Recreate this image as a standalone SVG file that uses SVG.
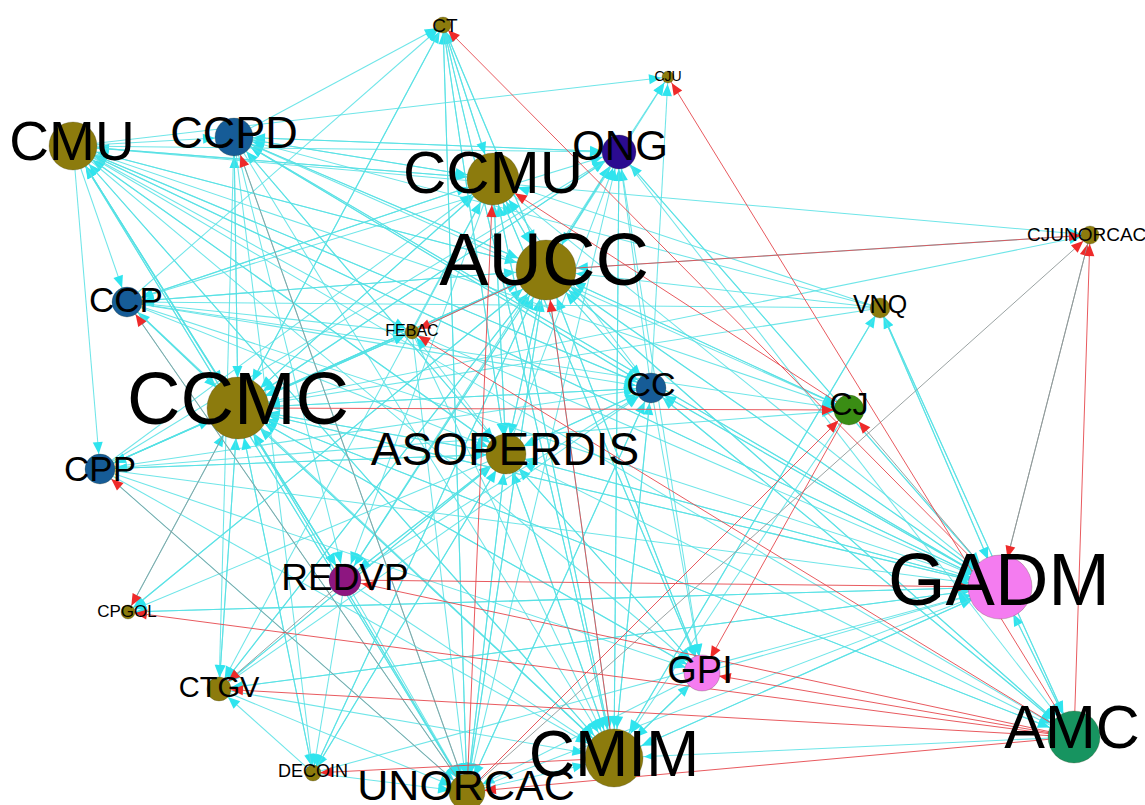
<svg xmlns="http://www.w3.org/2000/svg" width="1145" height="805" viewBox="0 0 1145 805">
<style>
.cy path{stroke:#55e0e4;stroke-width:1.05;fill:none;stroke-opacity:.85}
.gy path{stroke:#8e9898;stroke-width:.9;fill:none}
.rd path{stroke:#e5474d;stroke-width:.9;fill:none}
.ac{fill:#2fe4ee}
.ar{fill:#ee2a2a}
.nd circle{stroke:#3a3a1a;stroke-width:.5;stroke-opacity:.5}
.ol{fill:#8c7b0d}.bl{fill:#165c97}.vi{fill:#2b0b90}.gr{fill:#3a8d14}.mg{fill:#8d1680}.pk{fill:#f47cf0}.em{fill:#179460}
text{font-family:"Liberation Sans",Arial,Helvetica,sans-serif;fill:#000;text-anchor:middle}
</style>
<defs>
<!-- arrowheads: refX pushes the tip back to the rim of a target circle of the given radius -->
<marker id="c7" markerUnits="userSpaceOnUse" markerWidth="12" markerHeight="10" refX="19" refY="5" orient="auto" overflow="visible"><path class="ac" d="M0 0L12 5L0 10z"/></marker>
<marker id="c9" markerUnits="userSpaceOnUse" markerWidth="12" markerHeight="10" refX="21" refY="5" orient="auto" overflow="visible"><path class="ac" d="M0 0L12 5L0 10z"/></marker>
<marker id="c12" markerUnits="userSpaceOnUse" markerWidth="12" markerHeight="10" refX="24" refY="5" orient="auto" overflow="visible"><path class="ac" d="M0 0L12 5L0 10z"/></marker>
<marker id="c15" markerUnits="userSpaceOnUse" markerWidth="12" markerHeight="10" refX="27" refY="5" orient="auto" overflow="visible"><path class="ac" d="M0 0L12 5L0 10z"/></marker>
<marker id="c17" markerUnits="userSpaceOnUse" markerWidth="12" markerHeight="10" refX="29" refY="5" orient="auto" overflow="visible"><path class="ac" d="M0 0L12 5L0 10z"/></marker>
<marker id="c19" markerUnits="userSpaceOnUse" markerWidth="12" markerHeight="10" refX="31" refY="5" orient="auto" overflow="visible"><path class="ac" d="M0 0L12 5L0 10z"/></marker>
<marker id="c24" markerUnits="userSpaceOnUse" markerWidth="12" markerHeight="10" refX="36" refY="5" orient="auto" overflow="visible"><path class="ac" d="M0 0L12 5L0 10z"/></marker>
<marker id="c26" markerUnits="userSpaceOnUse" markerWidth="12" markerHeight="10" refX="38" refY="5" orient="auto" overflow="visible"><path class="ac" d="M0 0L12 5L0 10z"/></marker>
<marker id="c30" markerUnits="userSpaceOnUse" markerWidth="12" markerHeight="10" refX="42" refY="5" orient="auto" overflow="visible"><path class="ac" d="M0 0L12 5L0 10z"/></marker>
<marker id="r7" markerUnits="userSpaceOnUse" markerWidth="12" markerHeight="10" refX="19" refY="5" orient="auto" overflow="visible"><path class="ar" d="M0 0L12 5L0 10z"/></marker>
<marker id="r9" markerUnits="userSpaceOnUse" markerWidth="12" markerHeight="10" refX="21" refY="5" orient="auto" overflow="visible"><path class="ar" d="M0 0L12 5L0 10z"/></marker>
<marker id="r12" markerUnits="userSpaceOnUse" markerWidth="12" markerHeight="10" refX="24" refY="5" orient="auto" overflow="visible"><path class="ar" d="M0 0L12 5L0 10z"/></marker>
<marker id="r15" markerUnits="userSpaceOnUse" markerWidth="12" markerHeight="10" refX="27" refY="5" orient="auto" overflow="visible"><path class="ar" d="M0 0L12 5L0 10z"/></marker>
<marker id="r17" markerUnits="userSpaceOnUse" markerWidth="12" markerHeight="10" refX="29" refY="5" orient="auto" overflow="visible"><path class="ar" d="M0 0L12 5L0 10z"/></marker>
<marker id="r19" markerUnits="userSpaceOnUse" markerWidth="12" markerHeight="10" refX="31" refY="5" orient="auto" overflow="visible"><path class="ar" d="M0 0L12 5L0 10z"/></marker>
<marker id="r26" markerUnits="userSpaceOnUse" markerWidth="12" markerHeight="10" refX="38" refY="5" orient="auto" overflow="visible"><path class="ar" d="M0 0L12 5L0 10z"/></marker>
<marker id="r30" markerUnits="userSpaceOnUse" markerWidth="12" markerHeight="10" refX="42" refY="5" orient="auto" overflow="visible"><path class="ar" d="M0 0L12 5L0 10z"/></marker>
</defs>
<rect width="1145" height="805" fill="#fff"/>
<g id="edges">
<!-- cyan edges, grouped by target node -->
<g class="cy" marker-end="url(#c24)"><!-- CMU -->
<path d="M238 408L73 146"/><path d="M546 270L73 146"/><path d="M506 454L73 146"/><path d="M651 388L73 146"/><path d="M614 758L73 146"/><path d="M1000 587L73 146"/><path d="M345 580L73 146"/><path d="M467 792L73 146"/><path d="M493 179L73 146"/>
</g>
<g class="cy" marker-end="url(#c19)"><!-- CCPD -->
<path d="M73 146L234 137"/><path d="M546 270L234 137"/><path d="M493 179L234 137"/><path d="M619 152L234 137"/><path d="M651 388L234 137"/><path d="M238 408L234 137"/><path d="M506 454L234 137"/><path d="M1000 587L234 137"/><path d="M880 308L234 137"/>
</g>
<g class="cy" marker-end="url(#c7)"><!-- CT -->
<path d="M238 408L443 25"/><path d="M546 270L443 25"/><path d="M493 179L443 25"/><path d="M506 454L443 25"/><path d="M614 758L443 25"/><path d="M467 792L443 25"/><path d="M127 302L443 25"/><path d="M234 137L443 25"/>
</g>
<g class="cy" marker-end="url(#c7)"><!-- CJU -->
<path d="M73 146L668 77"/><path d="M619 152L668 77"/><path d="M546 270L668 77"/><path d="M651 388L668 77"/>
</g>
<g class="cy" marker-end="url(#c17)"><!-- ONG -->
<path d="M238 408L619 152"/><path d="M546 270L619 152"/><path d="M73 146L619 152"/><path d="M234 137L619 152"/><path d="M506 454L619 152"/><path d="M614 758L619 152"/><path d="M467 792L619 152"/><path d="M651 388L619 152"/><path d="M1000 587L619 152"/><path d="M127 302L619 152"/><path d="M100 469L619 152"/><path d="M345 580L619 152"/>
</g>
<g class="cy" marker-end="url(#c26)"><!-- CCMU -->
<path d="M73 146L493 179"/><path d="M234 137L493 179"/><path d="M238 408L493 179"/><path d="M546 270L493 179"/><path d="M506 454L493 179"/><path d="M614 758L493 179"/><path d="M651 388L493 179"/><path d="M127 302L493 179"/><path d="M100 469L493 179"/><path d="M443 25L493 179"/><path d="M412 332L493 179"/><path d="M880 308L493 179"/><path d="M702 673L493 179"/>
</g>
<g class="cy" marker-end="url(#c30)"><!-- AUCC -->
<path d="M73 146L546 270"/><path d="M234 137L546 270"/><path d="M493 179L546 270"/><path d="M443 25L546 270"/><path d="M619 152L546 270"/><path d="M238 408L546 270"/><path d="M127 302L546 270"/><path d="M100 469L546 270"/><path d="M412 332L546 270"/><path d="M506 454L546 270"/><path d="M651 388L546 270"/><path d="M849 410L546 270"/><path d="M880 308L546 270"/><path d="M345 580L546 270"/><path d="M1000 587L546 270"/><path d="M467 792L546 270"/><path d="M219 689L546 270"/><path d="M313 773L546 270"/><path d="M702 673L546 270"/><path d="M1074 737L546 270"/><path d="M128 612L546 270"/><path d="M1090 235L546 270"/>
</g>
<g class="cy" marker-end="url(#c9)"><!-- CJUNORCAC, VNQ -->
<path d="M73 146L1090 235"/><path d="M238 408L1090 235"/>
<path d="M1000 587L880 308"/><path d="M1074 737L880 308"/><path d="M614 758L880 308"/>
</g>
<g class="cy" marker-end="url(#c15)"><!-- CCP, CC, CJ, CPP -->
<path d="M73 146L127 302"/><path d="M546 270L127 302"/><path d="M493 179L127 302"/><path d="M238 408L127 302"/><path d="M880 308L127 302"/>
<path d="M73 146L651 388"/><path d="M234 137L651 388"/><path d="M127 302L651 388"/><path d="M100 469L651 388"/><path d="M238 408L651 388"/><path d="M546 270L651 388"/><path d="M506 454L651 388"/><path d="M614 758L651 388"/><path d="M467 792L651 388"/><path d="M1000 587L651 388"/><path d="M1074 737L651 388"/><path d="M345 580L651 388"/><path d="M219 689L651 388"/>
<path d="M73 146L849 410"/><path d="M546 270L849 410"/><path d="M234 137L849 410"/><path d="M100 469L849 410"/><path d="M127 302L849 410"/>
<path d="M73 146L100 469"/><path d="M238 408L100 469"/><path d="M546 270L100 469"/><path d="M506 454L100 469"/>
</g>
<g class="cy" marker-end="url(#c7)"><!-- FEBAC, CPGOL, DECOIN -->
<path d="M238 408L412 332"/><path d="M127 302L412 332"/><path d="M100 469L412 332"/><path d="M73 146L412 332"/><path d="M506 454L412 332"/>
<path d="M546 270L128 612"/><path d="M506 454L128 612"/><path d="M1000 587L128 612"/>
<path d="M238 408L313 773"/><path d="M546 270L313 773"/><path d="M234 137L313 773"/><path d="M345 580L313 773"/><path d="M506 454L313 773"/>
</g>
<g class="cy" marker-end="url(#c30)"><!-- CCMC -->
<path d="M73 146L238 408"/><path d="M234 137L238 408"/><path d="M127 302L238 408"/><path d="M100 469L238 408"/><path d="M443 25L238 408"/><path d="M493 179L238 408"/><path d="M546 270L238 408"/><path d="M506 454L238 408"/><path d="M651 388L238 408"/><path d="M219 689L238 408"/><path d="M128 612L238 408"/><path d="M345 580L238 408"/><path d="M313 773L238 408"/><path d="M467 792L238 408"/><path d="M614 758L238 408"/><path d="M1000 587L238 408"/><path d="M1074 737L238 408"/><path d="M412 332L238 408"/><path d="M619 152L238 408"/><path d="M880 308L238 408"/><path d="M702 673L238 408"/>
</g>
<g class="cy" marker-end="url(#c19)"><!-- ASOPERDIS -->
<path d="M73 146L506 454"/><path d="M234 137L506 454"/><path d="M493 179L506 454"/><path d="M546 270L506 454"/><path d="M443 25L506 454"/><path d="M238 408L506 454"/><path d="M127 302L506 454"/><path d="M100 469L506 454"/><path d="M651 388L506 454"/><path d="M614 758L506 454"/><path d="M467 792L506 454"/><path d="M1000 587L506 454"/><path d="M1074 737L506 454"/><path d="M345 580L506 454"/><path d="M219 689L506 454"/><path d="M313 773L506 454"/><path d="M702 673L506 454"/>
</g>
<g class="cy" marker-end="url(#c17)"><!-- REDVP, GPI, UNORCAC -->
<path d="M238 408L345 580"/><path d="M546 270L345 580"/><path d="M234 137L345 580"/><path d="M506 454L345 580"/><path d="M73 146L345 580"/><path d="M493 179L345 580"/>
<path d="M546 270L702 673"/><path d="M651 388L702 673"/><path d="M238 408L702 673"/><path d="M614 758L702 673"/><path d="M619 152L702 673"/><path d="M493 179L702 673"/><path d="M506 454L702 673"/><path d="M73 146L702 673"/><path d="M100 469L702 673"/>
<path d="M73 146L467 792"/><path d="M234 137L467 792"/><path d="M238 408L467 792"/><path d="M546 270L467 792"/><path d="M506 454L467 792"/><path d="M443 25L467 792"/><path d="M651 388L467 792"/><path d="M345 580L467 792"/><path d="M100 469L467 792"/><path d="M127 302L467 792"/><path d="M412 332L467 792"/><path d="M219 689L467 792"/><path d="M313 773L467 792"/><path d="M702 673L467 792"/>
</g>
<g class="cy" marker-end="url(#c30)"><!-- GADM -->
<path d="M73 146L1000 587"/><path d="M234 137L1000 587"/><path d="M238 408L1000 587"/><path d="M493 179L1000 587"/><path d="M546 270L1000 587"/><path d="M619 152L1000 587"/><path d="M127 302L1000 587"/><path d="M100 469L1000 587"/><path d="M506 454L1000 587"/><path d="M651 388L1000 587"/><path d="M880 308L1000 587"/><path d="M219 689L1000 587"/><path d="M128 612L1000 587"/><path d="M467 792L1000 587"/><path d="M614 758L1000 587"/><path d="M702 673L1000 587"/><path d="M313 773L1000 587"/><path d="M1074 737L1000 587"/><path d="M412 332L1000 587"/>
</g>
<g class="cy" marker-end="url(#c12)"><!-- CTGV -->
<path d="M238 408L219 689"/><path d="M546 270L219 689"/><path d="M234 137L219 689"/><path d="M313 773L219 689"/><path d="M506 454L219 689"/><path d="M493 179L219 689"/><path d="M1000 587L219 689"/>
</g>
<g class="cy" marker-end="url(#c30)"><!-- CMIM -->
<path d="M73 146L614 758"/><path d="M234 137L614 758"/><path d="M493 179L614 758"/><path d="M546 270L614 758"/><path d="M238 408L614 758"/><path d="M506 454L614 758"/><path d="M443 25L614 758"/><path d="M619 152L614 758"/><path d="M651 388L614 758"/><path d="M849 410L614 758"/><path d="M345 580L614 758"/><path d="M100 469L614 758"/><path d="M127 302L614 758"/><path d="M412 332L614 758"/><path d="M219 689L614 758"/><path d="M1000 587L614 758"/><path d="M1074 737L614 758"/><path d="M702 673L614 758"/><path d="M467 792L614 758"/><path d="M880 308L614 758"/>
</g>
<g class="cy" marker-end="url(#c26)"><!-- AMC -->
<path d="M1000 587L1074 737"/><path d="M619 152L1074 737"/><path d="M880 308L1074 737"/><path d="M651 388L1074 737"/><path d="M546 270L1074 737"/><path d="M238 408L1074 737"/><path d="M73 146L1074 737"/>
</g>
<!-- grey edges -->
<g class="gy">
<path d="M467 792L234 137" marker-end="url(#r19)"/>
<path d="M467 792L127 302" marker-end="url(#r15)"/>
<path d="M467 792L100 469" marker-end="url(#r15)"/>
<path d="M1000 587L1090 235" marker-end="url(#r9)"/>
<path d="M467 792L1090 235" marker-end="url(#r9)"/>
<path d="M1000 587L849 410" marker-end="url(#r15)"/>
<path d="M1090 235L1000 587" marker-end="url(#r30)"/>
<path d="M238 408L128 612" marker-end="url(#r7)"/>
<path d="M345 580L219 689" marker-end="url(#r12)"/>
</g>
<!-- red edges -->
<g class="rd">
<path d="M1000 587L443 25" marker-end="url(#r7)"/>
<path d="M1074 737L668 77" marker-end="url(#r7)"/>
<path d="M849 410L493 179" marker-end="url(#r26)"/>
<path d="M467 792L493 179" marker-end="url(#r26)"/>
<path d="M614 758L546 270" marker-end="url(#r30)"/>
<path d="M546 270L1090 235" marker-end="url(#r9)"/>
<path d="M1074 737L1090 235" marker-end="url(#r9)"/>
<path d="M1074 737L412 332" marker-end="url(#r7)"/>
<path d="M546 270L412 332" marker-end="url(#r7)"/>
<path d="M238 408L849 410" marker-end="url(#r15)"/>
<path d="M467 792L849 410" marker-end="url(#r15)"/>
<path d="M1074 737L345 580" marker-end="url(#r17)"/>
<path d="M345 580L1000 587" marker-end="url(#r30)"/>
<path d="M1074 737L128 612" marker-end="url(#r7)"/>
<path d="M849 410L702 673" marker-end="url(#r17)"/>
<path d="M1074 737L702 673" marker-end="url(#r17)"/>
<path d="M1074 737L219 689" marker-end="url(#r12)"/>
<path d="M614 758L313 773" marker-end="url(#r7)"/>
<path d="M1074 737L467 792" marker-end="url(#r17)"/>
</g>
</g>
<!-- nodes -->
<g id="n-CT" class="nd"><circle class="ol" cx="443" cy="25" r="8"/><text x="445" y="32" font-size="19">CT</text></g>
<g id="n-CJU" class="nd"><circle class="ol" cx="668" cy="77" r="6"/><text x="668" y="81" font-size="14">CJU</text></g>
<g id="n-CMU" class="nd"><circle class="ol" cx="73" cy="146" r="24"/><text x="72" y="160" font-size="55">CMU</text></g>
<g id="n-CCPD" class="nd"><circle class="bl" cx="234" cy="137" r="19"/><text x="234" y="148" font-size="45">CCPD</text></g>
<g id="n-CCMU" class="nd"><circle class="ol" cx="493" cy="179" r="26"/><text x="493" y="193" font-size="60">CCMU</text></g>
<g id="n-ONG" class="nd"><circle class="vi" cx="619" cy="152" r="17"/><text x="620" y="160" font-size="42">ONG</text></g>
<g id="n-AUCC" class="nd"><circle class="ol" cx="546" cy="270" r="30"/><text x="544" y="285" font-size="74">AUCC</text></g>
<g id="n-CJUNORCAC" class="nd"><circle class="ol" cx="1090" cy="235" r="9"/><text x="1027" y="241" font-size="19" style="text-anchor:start">CJUNORCAC</text></g>
<g id="n-VNQ" class="nd"><circle class="ol" cx="880" cy="308" r="10"/><text x="880" y="313" font-size="25">VNQ</text></g>
<g id="n-CCP" class="nd"><circle class="bl" cx="127" cy="302" r="15"/><text x="126" y="312" font-size="35">CCP</text></g>
<g id="n-FEBAC" class="nd"><circle class="ol" cx="412" cy="332" r="7"/><text x="412" y="336" font-size="16">FEBAC</text></g>
<g id="n-CCMC" class="nd"><circle class="ol" cx="238" cy="408" r="31"/><text x="238" y="424" font-size="74">CCMC</text></g>
<g id="n-CC" class="nd"><circle class="bl" cx="651" cy="388" r="15"/><text x="651" y="396" font-size="34">CC</text></g>
<g id="n-CJ" class="nd"><circle class="gr" cx="849" cy="410" r="15"/><text x="849" y="415" font-size="32">CJ</text></g>
<g id="n-ASOPERDIS" class="nd"><circle class="ol" cx="506" cy="454" r="20"/><text x="505" y="465" font-size="46">ASOPERDIS</text></g>
<g id="n-CPP" class="nd"><circle class="bl" cx="100" cy="469" r="15"/><text x="100" y="481" font-size="35">CPP</text></g>
<g id="n-REDVP" class="nd"><circle class="mg" cx="345" cy="580" r="16"/><text x="345" y="590" font-size="37">REDVP</text></g>
<g id="n-GADM" class="nd"><circle class="pk" cx="1000" cy="587" r="32"/><text x="999" y="605" font-size="74">GADM</text></g>
<g id="n-CPGOL" class="nd"><circle class="ol" cx="128" cy="612" r="7"/><text x="127" y="617" font-size="17">CPGOL</text></g>
<g id="n-GPI" class="nd"><circle class="pk" cx="702" cy="673" r="18"/><text x="700" y="683" font-size="38">GPI</text></g>
<g id="n-CTGV" class="nd"><circle class="ol" cx="219" cy="689" r="12"/><text x="219" y="697" font-size="29">CTGV</text></g>
<g id="n-DECOIN" class="nd"><circle class="ol" cx="313" cy="773" r="8"/><text x="313" y="777" font-size="18">DECOIN</text></g>
<g id="n-UNORCAC" class="nd"><circle class="ol" cx="467" cy="792" r="18"/><text x="466" y="800" font-size="43">UNORCAC</text></g>
<g id="n-CMIM" class="nd"><circle class="ol" cx="614" cy="758" r="29"/><text x="614" y="776" font-size="64">CMIM</text></g>
<g id="n-AMC" class="nd"><circle class="em" cx="1074" cy="737" r="26"/><text x="1072" y="748" font-size="61">AMC</text></g>
</svg>
